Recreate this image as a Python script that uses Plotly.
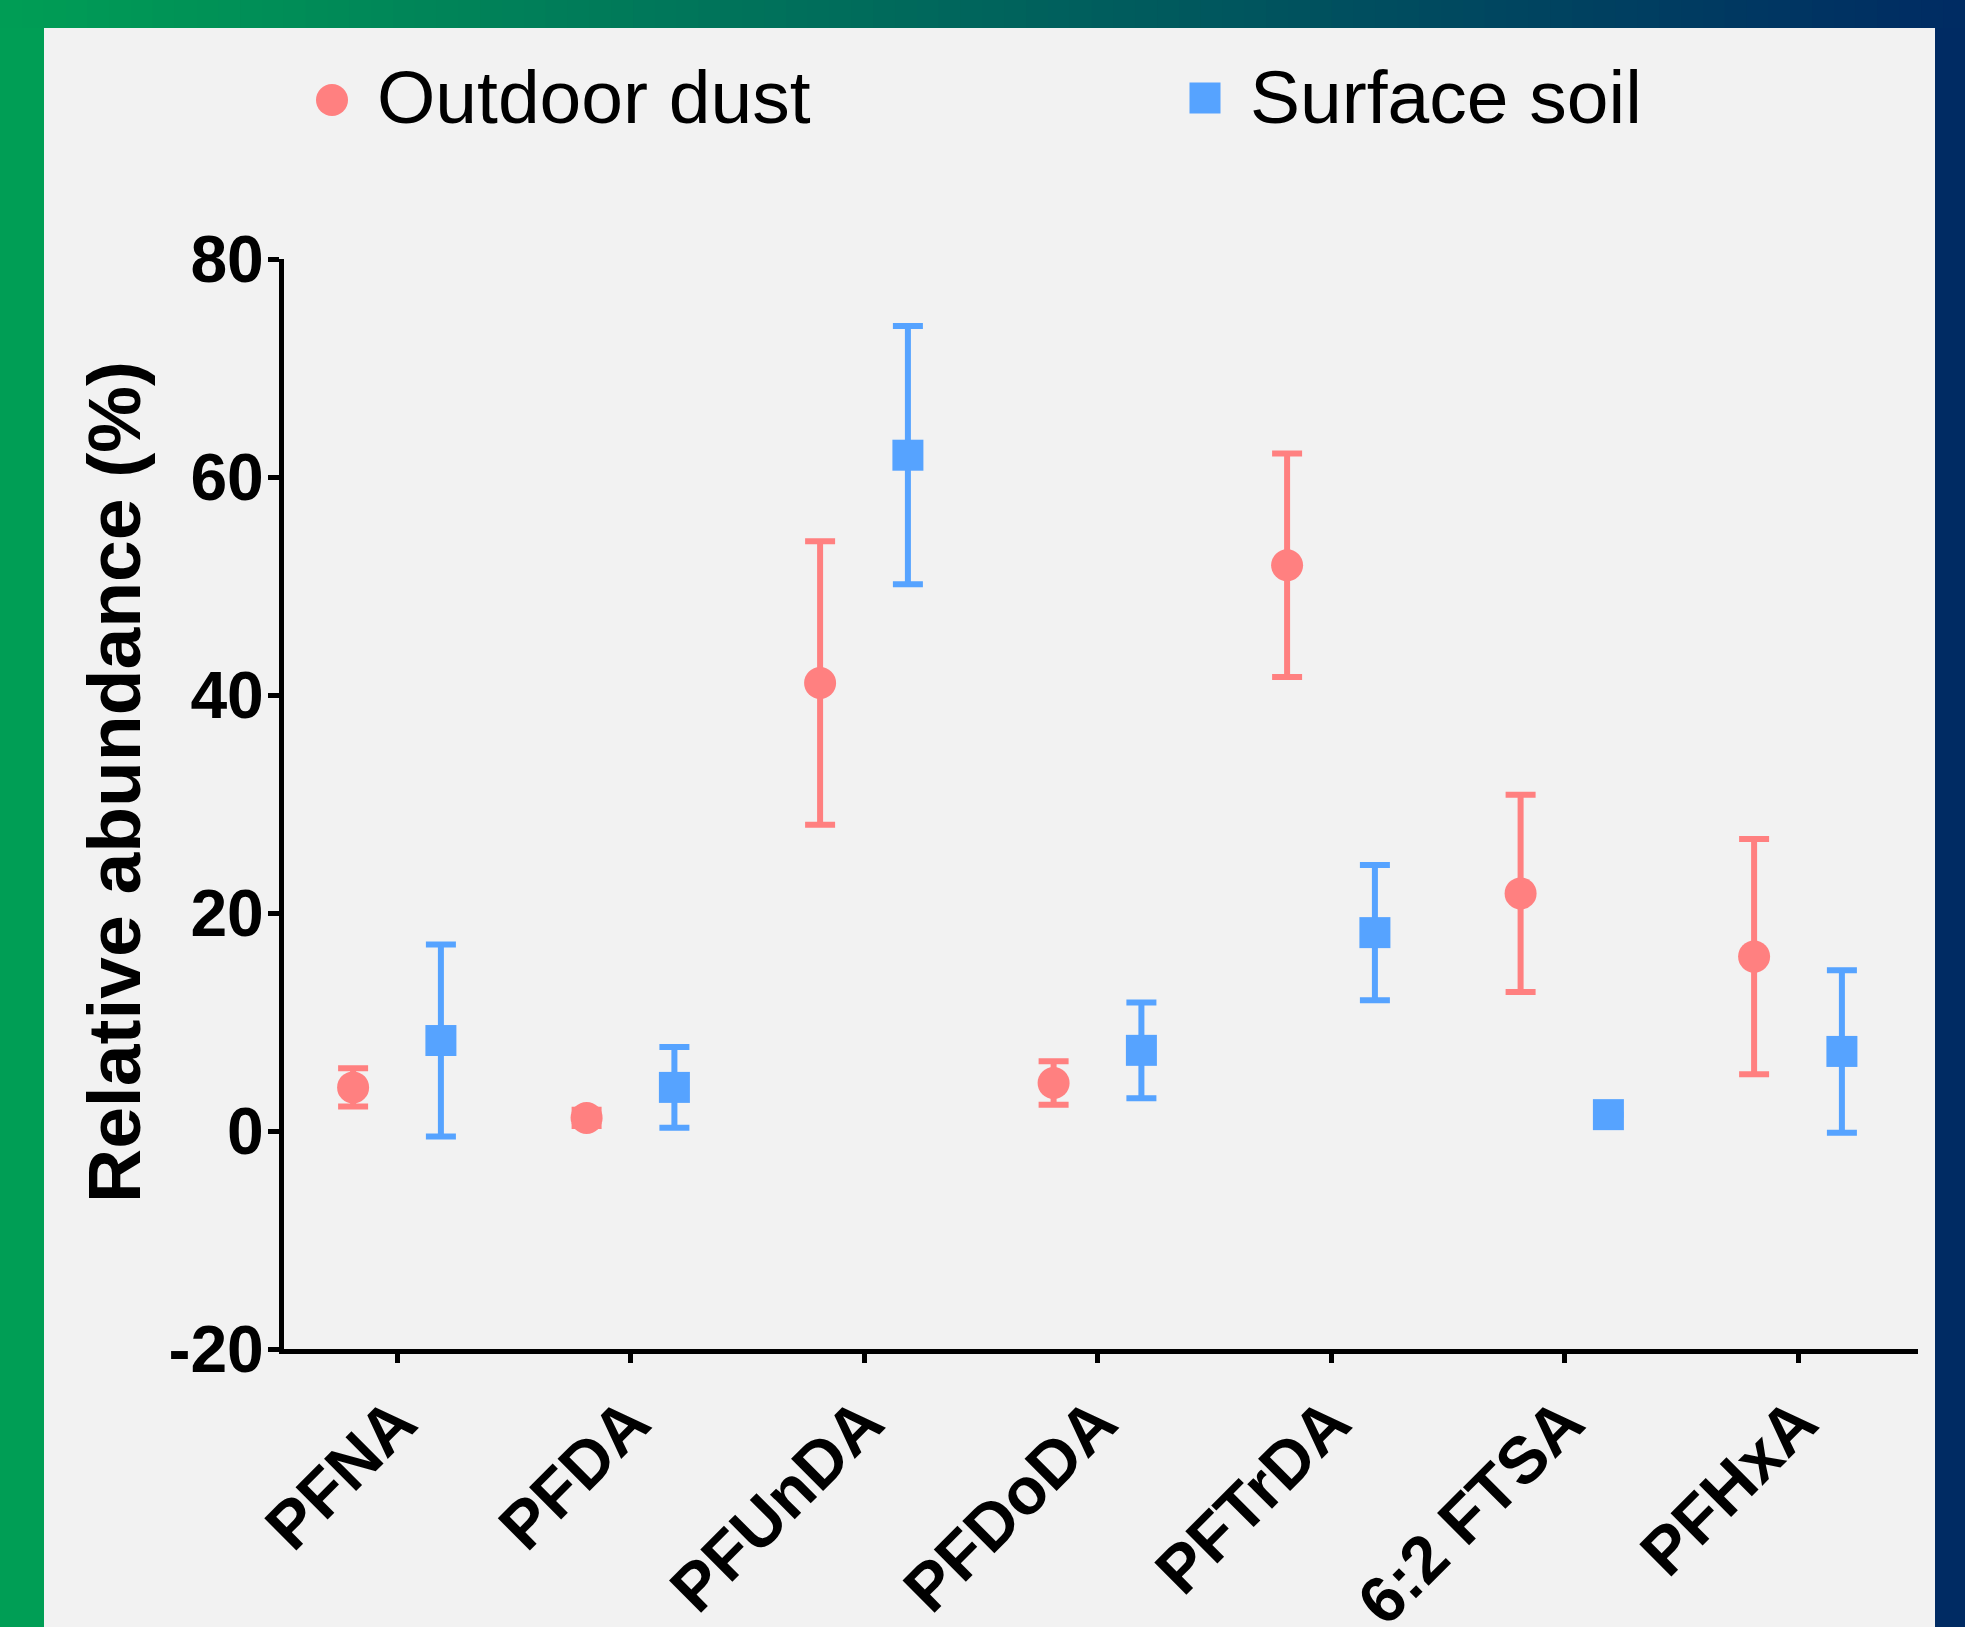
import plotly.graph_objects as go
import numpy as np

# ---------------- data ----------------
categories = ["PFNA", "PFDA", "PFUnDA", "PFDoDA", "PFTrDA", "6:2 FTSA", "PFHxA"]
dust_mean = [4.0, 1.2, 41.1, 4.4, 51.9, 21.8, 16.0]
dust_err = [1.75, 0.75, 13.0, 2.0, 10.25, 9.05, 10.8]
soil_mean = [8.3, 4.0, 62.0, 7.4, 18.2, 1.5, 7.3]
soil_err = [8.8, 3.7, 11.85, 4.4, 6.2, 0.0, 7.45]
series_names = ["Outdoor dust", "Surface soil"]
y_ticks = [-20, 0, 20, 40, 60, 80]
y_title = "Relative abundance (%)"

# ---------------- style ----------------
RED = "#FF8080"
BLUE = "#56A3FF"
GREEN = (0, 158, 85)
NAVY = (0, 43, 99)
FONT = "Liberation Sans, Arial, Helvetica, sans-serif"
W, H = 1965, 1627
L, R, T, B = 284, 1918, 259, 1349
X0_PX, STEP_PX = 397.0, 233.5   # pixel of first category, category spacing
OFF = 0.188

def px(xp):
    return (xp - L) / (R - L)

def py(yp):
    return (B - yp) / (B - T)

idx = np.arange(len(categories))
x_lo = (L - X0_PX) / STEP_PX
x_hi = (R - X0_PX) / STEP_PX

fig = go.Figure()
fig.add_trace(go.Scatter(
    x=idx - OFF, y=dust_mean, mode="markers", name=series_names[0],
    marker=dict(symbol="circle", size=32, color=RED, line=dict(width=0)),
    error_y=dict(type="data", array=dust_err, visible=True, color=RED,
                 thickness=6, width=15),
    showlegend=False,
))
fig.add_trace(go.Scatter(
    x=idx + OFF, y=soil_mean, mode="markers", name=series_names[1],
    marker=dict(symbol="square", size=31, color=BLUE, line=dict(width=0)),
    error_y=dict(type="data", array=soil_err, visible=True, color=BLUE,
                 thickness=6, width=15),
    showlegend=False,
))

shapes = []
# frame: left strip, right strip, gradient top band
shapes.append(dict(type="rect", xref="paper", yref="paper",
                   x0=px(-5), x1=px(44), y0=py(H + 5), y1=py(-5),
                   fillcolor="rgb(%d,%d,%d)" % GREEN, line=dict(width=0), layer="below"))
shapes.append(dict(type="rect", xref="paper", yref="paper",
                   x0=px(1935), x1=px(W + 5), y0=py(H + 5), y1=py(-5),
                   fillcolor="rgb(%d,%d,%d)" % NAVY, line=dict(width=0), layer="below"))
N = 90
for k in range(N):
    t = (k + 0.5) / N
    c = tuple(int(round(GREEN[j] + (NAVY[j] - GREEN[j]) * t)) for j in range(3))
    x0 = W * k / N
    x1 = W * (k + 1) / N + 1
    shapes.append(dict(type="rect", xref="paper", yref="paper",
                       x0=px(x0), x1=px(x1), y0=py(28), y1=py(-5),
                       fillcolor="rgb(%d,%d,%d)" % c, line=dict(width=0), layer="below"))

# legend symbols
shapes.append(dict(type="circle", xref="paper", yref="paper",
                   xsizemode="pixel", ysizemode="pixel",
                   xanchor=px(332), yanchor=py(100),
                   x0=-16, x1=16, y0=-16, y1=16,
                   fillcolor=RED, line=dict(width=0)))
shapes.append(dict(type="rect", xref="paper", yref="paper",
                   xsizemode="pixel", ysizemode="pixel",
                   xanchor=px(1205), yanchor=py(98),
                   x0=-15.5, x1=15.5, y0=-15.5, y1=15.5,
                   fillcolor=BLUE, line=dict(width=0)))

annotations = [
    dict(text=series_names[0], xref="paper", yref="paper", x=px(375), y=py(97),
         xanchor="left", yanchor="middle", showarrow=False,
         font=dict(family=FONT, size=75, color="black")),
    dict(text=series_names[1], xref="paper", yref="paper", x=px(1248), y=py(97),
         xanchor="left", yanchor="middle", showarrow=False,
         font=dict(family=FONT, size=75, color="black")),
    dict(text="<b>%s</b>" % y_title, xref="paper", yref="paper", x=px(114), y=py(782),
         xanchor="center", yanchor="middle", showarrow=False, textangle=-90,
         font=dict(family=FONT, size=75, color="black")),
]

fig.update_layout(
    width=W, height=H,
    margin=dict(l=L, r=W - R, t=T, b=H - B, pad=0),
    paper_bgcolor="#F2F2F2",
    plot_bgcolor="#F2F2F2",
    shapes=shapes,
    annotations=annotations,
    showlegend=False,
    xaxis=dict(
        range=[x_lo, x_hi],
        tickmode="array", tickvals=list(idx),
        ticktext=["<b>%s</b>" % c for c in categories],
        tickangle=-45,
        tickfont=dict(family=FONT, size=66, color="black"),
        ticks="outside", ticklen=9, tickwidth=5, tickcolor="black",
        ticklabelstandoff=-6,
        showline=True, linecolor="black", linewidth=5,
        showgrid=False, zeroline=False, automargin=False,
    ),
    yaxis=dict(
        range=[-20, 80],
        tickmode="array", tickvals=y_ticks,
        ticktext=["<b>%d</b>" % v for v in y_ticks],
        tickfont=dict(family=FONT, size=66, color="black"),
        ticks="outside", ticklen=11, tickwidth=5, tickcolor="black",
        ticklabelstandoff=-9,
        showline=True, linecolor="black", linewidth=5,
        showgrid=False, zeroline=False, automargin=False,
    ),
)

fig.write_html("out.html")
